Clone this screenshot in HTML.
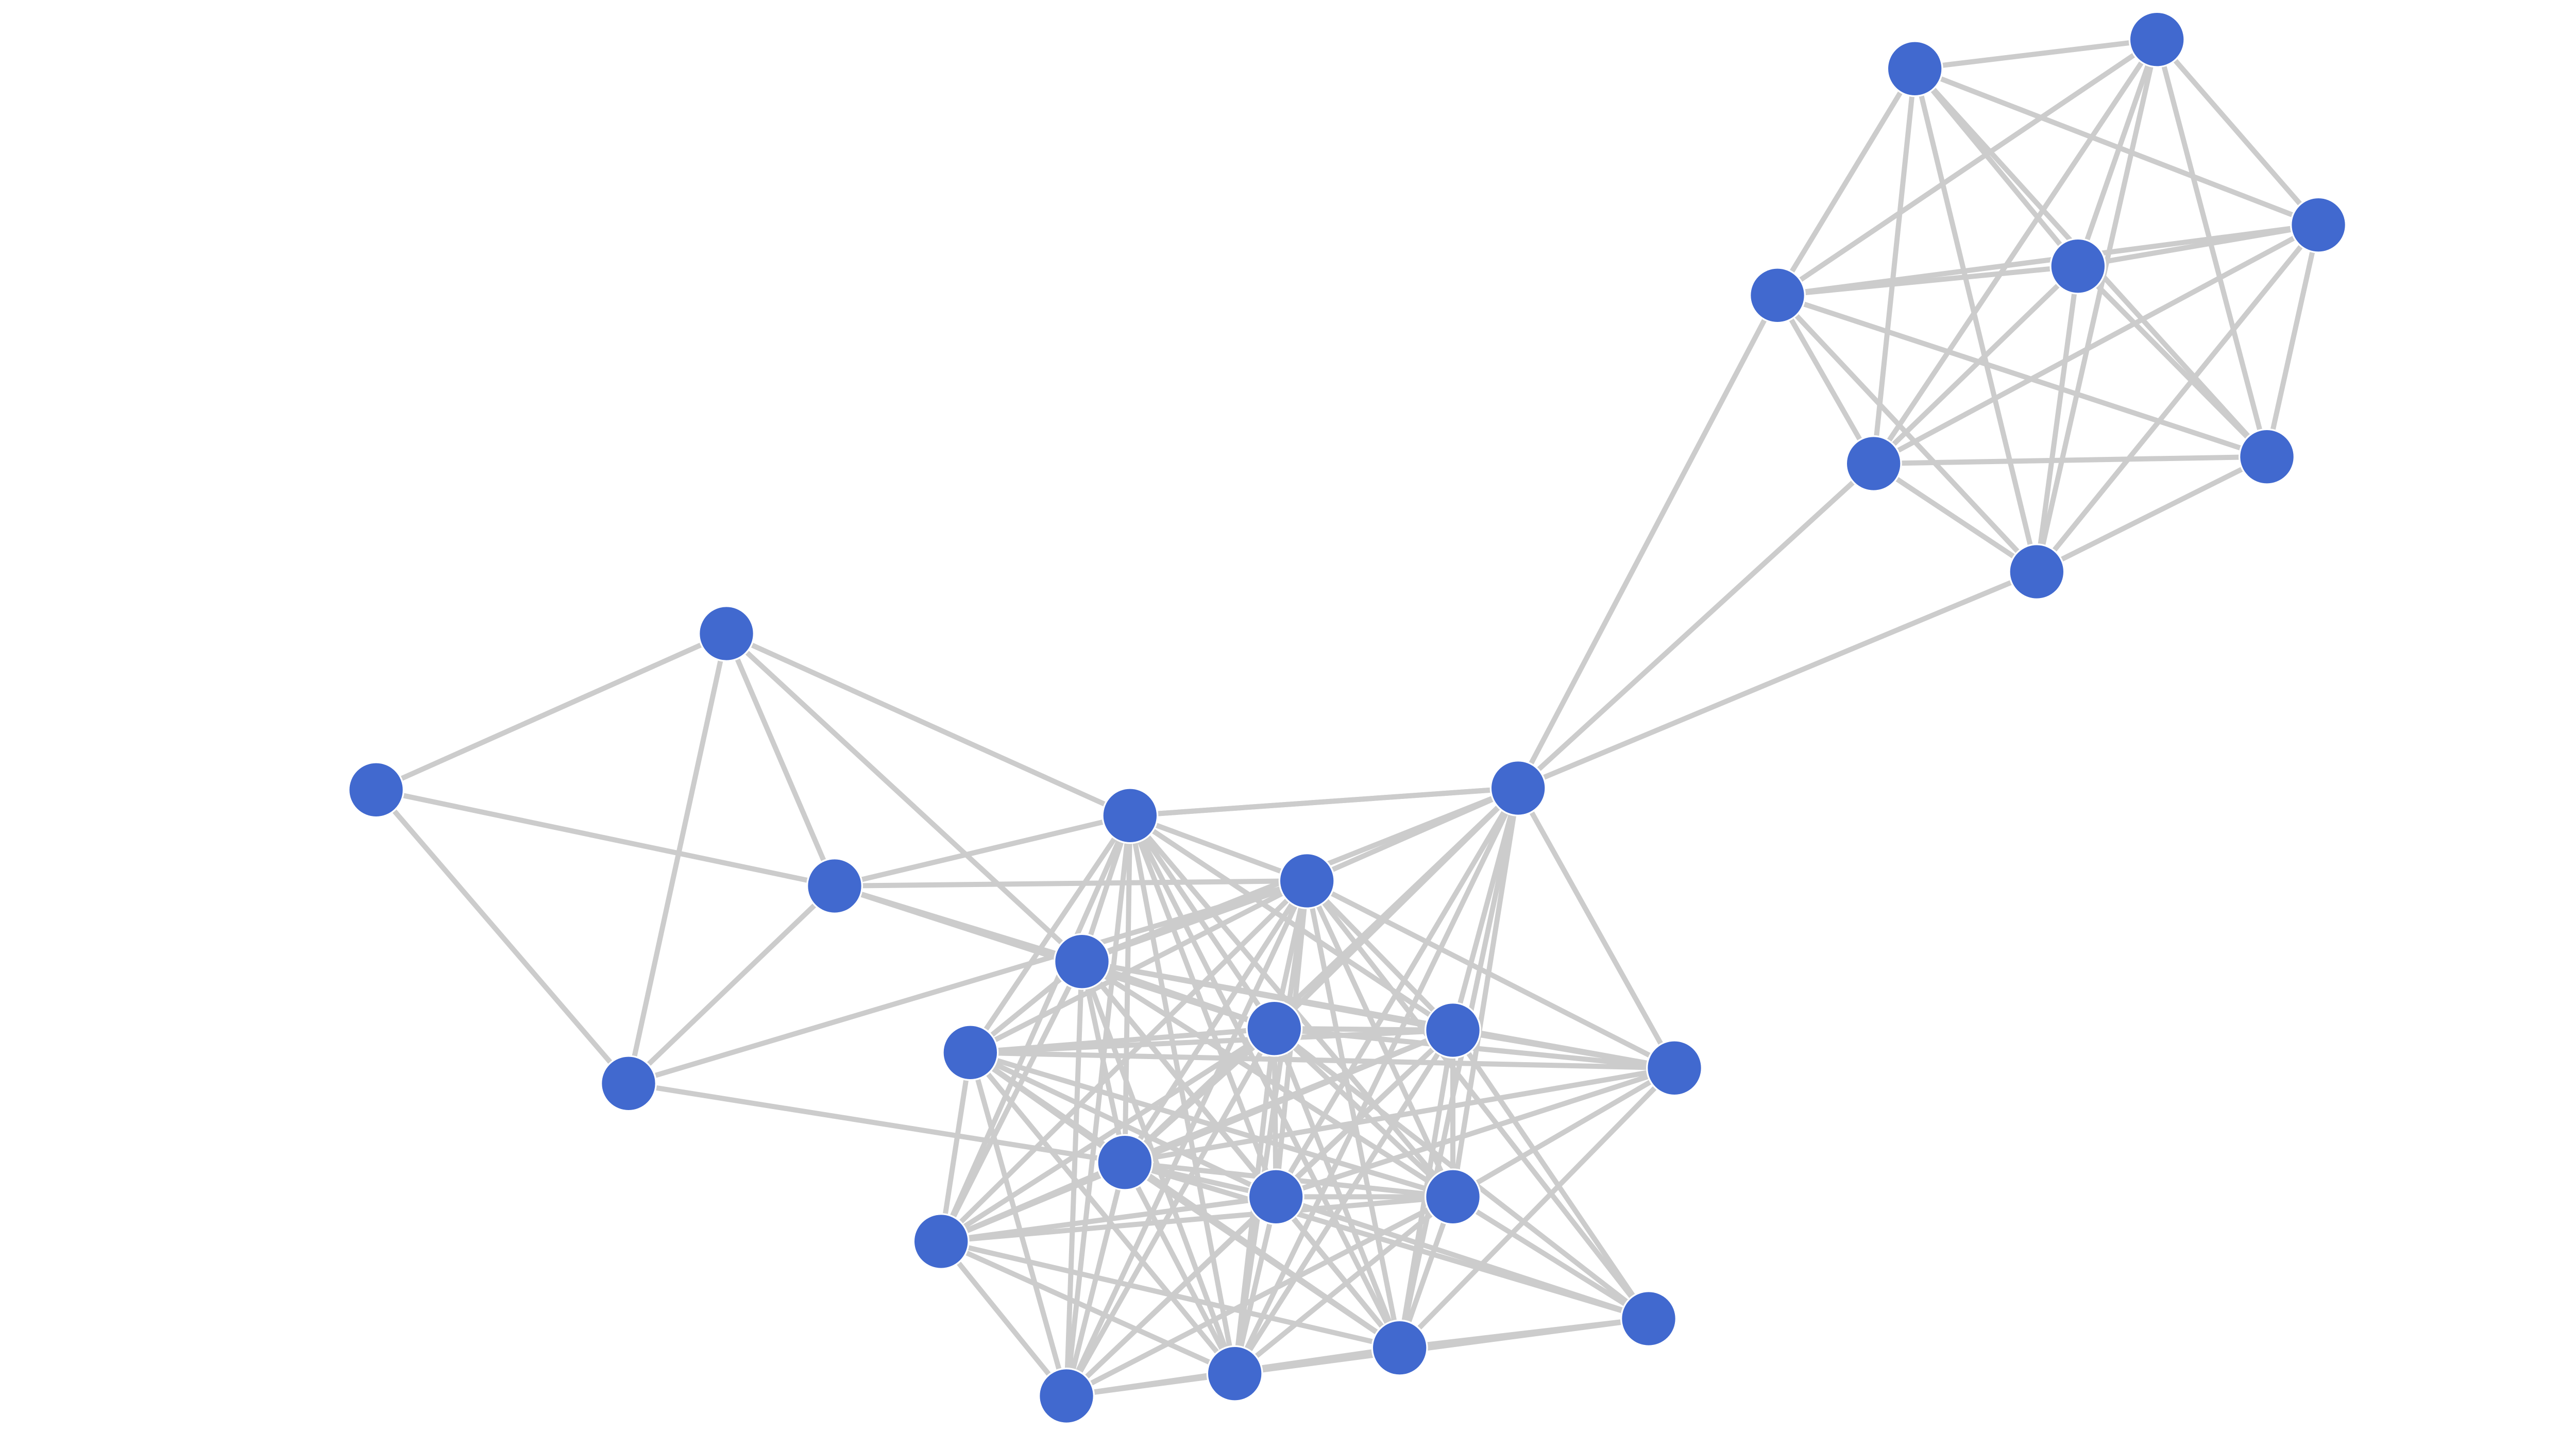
<!DOCTYPE html>
<html><head><meta charset="utf-8"><style>html,body{margin:0;padding:0;background:#fff}svg{display:block}</style></head>
<body>
<svg id="g" width="5200" height="2780" viewBox="0 0 1560 834" preserveAspectRatio="none" xmlns="http://www.w3.org/2000/svg">
<g id="e" stroke="#cccccc" stroke-width="3" fill="none"></g>
<g id="n" fill="#4169cf" stroke="#ffffff" stroke-width="1"></g>
</svg>
<script>
var P={A:[1115,40],B:[1256,23],C:[1350,131],D:[1210,155],E:[1035,172],F:[1091,270],G:[1320,266],H:[1186,333],
I:[423,369],J:[219,460],K:[486,516],L:[366,631],M:[658,475],N:[884,459],O:[761,513],Pp:[630,560],Q:[565,613],
R:[742,599],S:[846,600],T:[975,622],U:[655,677],V:[743,697],W:[846,697],X:[548,723],Y:[960,768],Z:[815,785],AA:[719,800],AB:[621,813]};
var E=[];
function full(a){for(var i=0;i<a.length;i++)for(var j=i+1;j<a.length;j++)E.push([a[i],a[j]]);}
full(["A","B","C","D","E","F","G","H"]);
full(["M","O","Pp","Q","R","S","U","V","W","X","Z","AA","AB"]);
E.push(["E","N"],["F","N"],["H","N"],["I","J"],["I","K"],["I","L"],["I","M"],["I","Pp"],["J","K"],["J","L"],["K","L"],["K","M"],["K","O"],["K","Pp"],["K","R"],["L","O"],["L","U"],["M","N"]);
["M","O","Pp","R","S","T","U","V","W","Z","AA"].forEach(function(x){E.push(["N",x])});
["O","R","S","U","V","W","Q","Z","Pp"].forEach(function(x){E.push(["T",x])});
["S","V","W","Z","AA","U","O","R"].forEach(function(x){E.push(["Y",x])});
var ns="http://www.w3.org/2000/svg",ge=document.getElementById("e"),gn=document.getElementById("n");
E.forEach(function(p){var l=document.createElementNS(ns,"line"),a=P[p[0]],b=P[p[1]];
l.setAttribute("x1",a[0]);l.setAttribute("y1",a[1]);l.setAttribute("x2",b[0]);l.setAttribute("y2",b[1]);ge.appendChild(l);});
for(var k in P){var c=document.createElementNS(ns,"circle");c.setAttribute("cx",P[k][0]);c.setAttribute("cy",P[k][1]);c.setAttribute("r",16);gn.appendChild(c);}
</script>
</body></html>
